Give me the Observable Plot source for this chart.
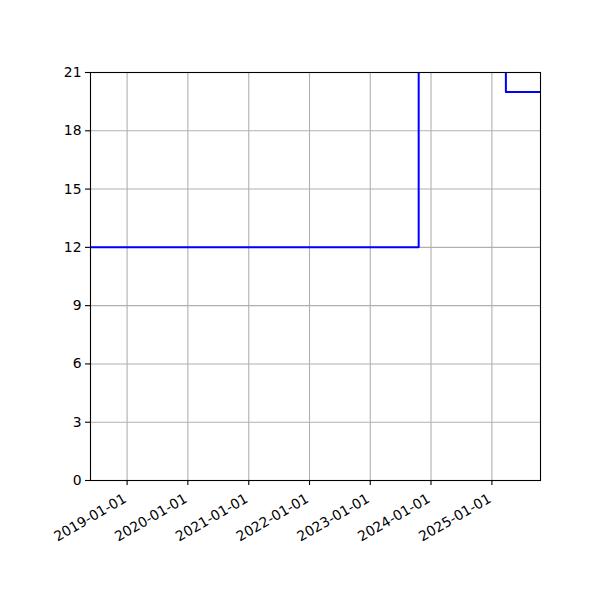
<!DOCTYPE html>
<html><head><meta charset="utf-8">
<script src="https://cdn.jsdelivr.net/npm/d3@7"></script>
<script src="https://cdn.jsdelivr.net/npm/@observablehq/plot@0.6"></script>
<style>body{margin:0;background:#fff;} svg{font-family:"DejaVu Sans",sans-serif;}</style>
</head><body><div id="chart"></div>
<script>
const dates = ["2018-05-26", "2023-10-19", "2025-03-26", "2025-10-20"];
const values = [12, 24, 20, 20];
const xTicks = ["2019-01-01","2020-01-01","2021-01-01","2022-01-01","2023-01-01","2024-01-01","2025-01-01"];
const yTicks = [0, 3, 6, 9, 12, 15, 18, 21];

const data = dates.map((d, i) => ({date: new Date(d + "T00:00:00Z"), value: values[i]}));
const xTickDates = xTicks.map(d => new Date(d + "T00:00:00Z"));
const fmt = d3.utcFormat("%Y-%m-%d");

const chart = Plot.plot({
  width: 600, height: 600,
  marginLeft: 90, marginRight: 60, marginTop: 72, marginBottom: 120,
  style: {fontFamily: "DejaVu Sans, sans-serif", fontSize: "13.9px", color: "#000", background: "#fff"},
  x: {type: "utc", domain: [data[0].date, data[data.length-1].date]},
  y: {domain: [0, 21]},
  marks: [
    Plot.gridX(xTickDates, {stroke: "#b0b0b0", strokeOpacity: 1, strokeWidth: 1.1}),
    Plot.gridY(yTicks, {stroke: "#b0b0b0", strokeOpacity: 1, strokeWidth: 1.1}),
    Plot.line(data, {x: "date", y: "value", curve: "step-after", stroke: "blue", strokeWidth: 2, clip: true}),
    Plot.frame({stroke: "#000", strokeWidth: 1.1}),
    Plot.axisY(yTicks, {tickSize: 5, tickPadding: 4, label: null, tickFormat: d => String(d), strokeWidth: 1.1}),
    Plot.axisX(xTickDates, {tickSize: 5, label: null, tickFormat: () => "", strokeWidth: 1.1}),
    Plot.text(xTickDates, {x: d => d, frameAnchor: "bottom", text: d => fmt(d), rotate: -30,
      textAnchor: "end", lineAnchor: "middle", dx: -2, dy: 17, fontSize: 13.9, fill: "#000"})
  ]
});
document.getElementById("chart").appendChild(chart);
</script></body></html>
